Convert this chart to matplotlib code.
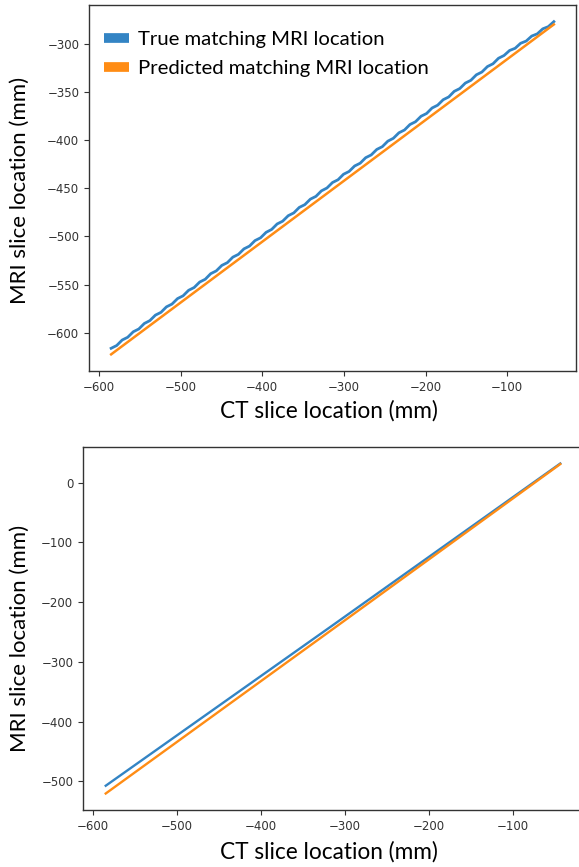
"""CT vs MRI slice matching: true vs predicted MRI location for two scans."""

import matplotlib

matplotlib.use("Agg")
import matplotlib.pyplot as plt

# top scan: true matching MRI location per CT slice (mm)
ct_true_top = [
    -585.0, -578.2, -571.5, -564.7, -557.9, -551.1, -544.4, -537.6, -530.8, -524.0,
    -517.3, -510.5, -503.7, -496.9, -490.2, -483.4, -476.6, -469.8, -463.1, -456.3,
    -449.5, -442.7, -436.0, -429.2, -422.4, -415.6, -408.9, -402.1, -395.3, -388.5,
    -381.8, -375.0, -368.2, -361.4, -354.7, -347.9, -341.1, -334.3, -327.6, -320.8,
    -314.0, -307.2, -300.5, -293.7, -286.9, -280.1, -273.4, -266.6, -259.8, -253.0,
    -246.3, -239.5, -232.7, -225.9, -219.2, -212.4, -205.6, -198.8, -192.1, -185.3,
    -178.5, -171.7, -165.0, -158.2, -151.4, -144.6, -137.9, -131.1, -124.3, -117.5,
    -110.8, -104.0, -97.2, -90.4, -83.7, -76.9, -70.1, -63.3, -56.6, -49.8,
    -43.0,
]
mri_true_top = [
    -616.3, -613.4, -607.7, -604.8, -599.1, -596.2, -590.5, -587.5, -581.8, -578.9,
    -573.2, -570.3, -564.6, -561.7, -556.0, -553.1, -547.4, -544.5, -538.7, -535.8,
    -530.1, -527.2, -521.5, -518.6, -512.9, -510.0, -504.3, -501.4, -495.7, -492.7,
    -487.0, -484.1, -478.4, -475.5, -469.8, -466.9, -461.2, -458.3, -452.6, -449.6,
    -443.9, -441.0, -435.3, -432.4, -426.7, -423.8, -418.1, -415.2, -409.5, -406.6,
    -400.9, -397.9, -392.2, -389.3, -383.6, -380.7, -375.0, -372.1, -366.4, -363.5,
    -357.8, -354.9, -349.1, -346.2, -340.5, -337.6, -331.9, -329.0, -323.3, -320.4,
    -314.7, -311.8, -306.6, -304.3, -299.1, -296.8, -291.6, -289.3, -284.1, -281.8,
    -276.6,
]
# top scan: predicted matching MRI location
ct_pred_top = [-585.0, -314.0, -43.0]
mri_pred_top = [-622.6, -451.0, -279.5]

# bottom scan
ct_true_bot = [-585.0, -314.0, -44.0]
mri_true_bot = [-507.5, -238.0, 32.0]
ct_pred_bot = [-585.0, -314.0, -44.0]
mri_pred_bot = [-520.5, -244.5, 31.0]

labels = ["True matching MRI location", "Predicted matching MRI location"]
BLUE = "#3384c4"
ORANGE = "#ff8c14"
LABEL_FONT = "Lato"

W, H = 579, 867
fig = plt.figure(figsize=(W / 100, H / 100), dpi=100)


def _axes(left, top, right, bottom):
    return fig.add_axes([left / W, 1 - bottom / H, (right - left) / W, (bottom - top) / H])


def _style(ax):
    for sp in ax.spines.values():
        sp.set_color("#333333")
        sp.set_linewidth(1.0)
    ax.tick_params(labelsize=8.5, colors="#333333", length=3.5)


ax1 = _axes(89, 5, 576, 371)
ax1.plot(ct_true_top, mri_true_top, color=BLUE, lw=2.0, label=labels[0])
ax1.plot(ct_pred_top, mri_pred_top, color=ORANGE, lw=1.8, label=labels[1])
_style(ax1)
leg = ax1.legend(
    loc="upper left",
    bbox_to_anchor=(0.0144, 0.952),
    borderaxespad=0,
    frameon=False,
    prop={"family": LABEL_FONT, "size": 14.6},
    handlelength=1.25,
    handletextpad=0.4,
    labelspacing=0.6,
)
for line in leg.get_lines():
    line.set_linewidth(7)
    line.set_solid_capstyle("butt")

ax2 = _axes(83, 447, 583, 810)
ax2.plot(ct_true_bot, mri_true_bot, color=BLUE, lw=1.7)
ax2.plot(ct_pred_bot, mri_pred_bot, color=ORANGE, lw=1.7)
_style(ax2)

for y_px in (411, 852):
    fig.text(329 / W, 1 - y_px / H, "CT slice location (mm)", family=LABEL_FONT,
             fontsize=16.3, ha="center", va="center")
for y_px in (190, 638):
    fig.text(20 / W, 1 - y_px / H, "MRI slice location (mm)", family=LABEL_FONT,
             fontsize=16, ha="center", va="center", rotation=90)

fig.savefig("out.png", dpi=100)
